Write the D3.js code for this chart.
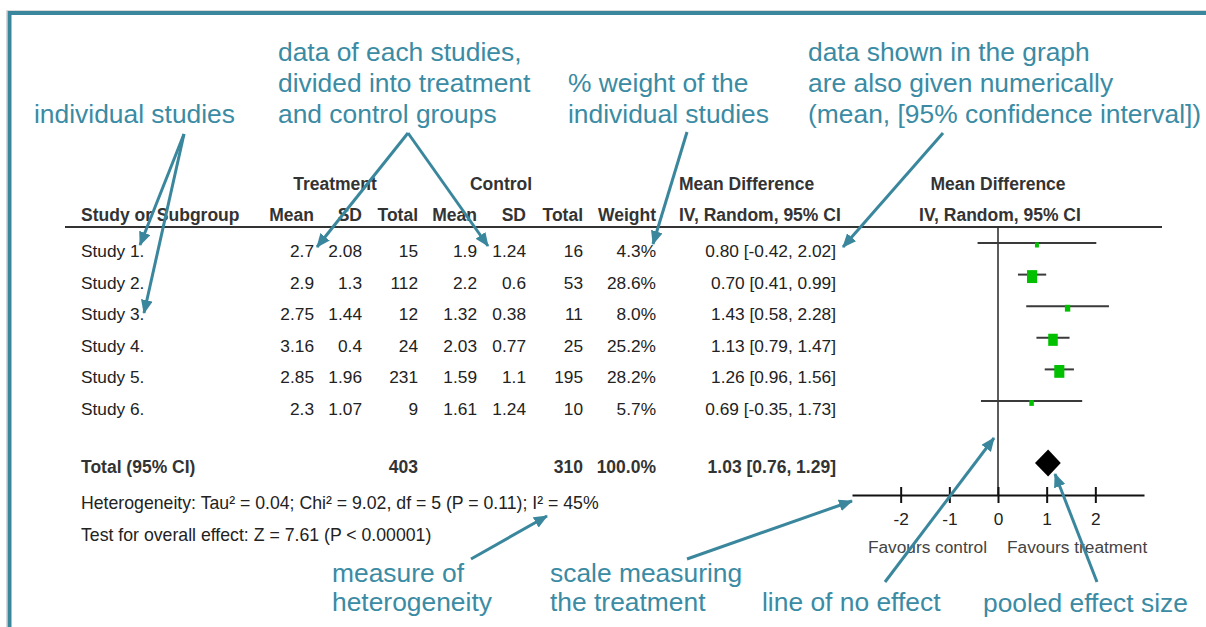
<!DOCTYPE html>
<html>
<head>
<meta charset="utf-8">
<script src="https://cdn.jsdelivr.net/npm/d3@7"></script>
<style>
  html, body { margin: 0; padding: 0; background: #fff; }
  svg { display: block; font-family: "Liberation Sans", Arial, sans-serif; }
</style>
</head>
<body>
<svg id="chart" width="1206" height="627"></svg>
<script>
// ---------------- data ----------------
const studies = ["Study 1.", "Study 2.", "Study 3.", "Study 4.", "Study 5.", "Study 6."];
const tMean  = [2.7, 2.9, 2.75, 3.16, 2.85, 2.3];
const tSD    = [2.08, 1.3, 1.44, 0.4, 1.96, 1.07];
const tTotal = [15, 112, 12, 24, 231, 9];
const cMean  = [1.9, 2.2, 1.32, 2.03, 1.59, 1.61];
const cSD    = [1.24, 0.6, 0.38, 0.77, 1.1, 1.24];
const cTotal = [16, 53, 11, 25, 195, 10];
const weight = [4.3, 28.6, 8.0, 25.2, 28.2, 5.7];
const md     = [0.80, 0.70, 1.43, 1.13, 1.26, 0.69];
const ciLow  = [-0.42, 0.41, 0.58, 0.79, 0.96, -0.35];
const ciHigh = [2.02, 0.99, 2.28, 1.47, 1.56, 1.73];
const pooled = [1.03, 0.76, 1.29];            // estimate, low, high
const totals = [403, 310, 100.0];             // treatment total, control total, weight
const axisTicks = [-2, -1, 0, 1, 2];
const heterogeneityText = "Heterogeneity: Tau\u00B2 = 0.04; Chi\u00B2 = 9.02, df = 5 (P = 0.11); I\u00B2 = 45%";
const overallText = "Test for overall effect: Z = 7.61 (P < 0.00001)";

// ---------------- setup ----------------
const svg = d3.select("#chart");
const TEAL = "#3a879d";
const TEAL_TXT = "#3a8ba3";
const INK = "#222";
const fs = 17.3;
const loc = d3.formatLocale({ decimal: ".", thousands: ",", grouping: [3], currency: ["", ""], minus: "-" });

svg.append("rect").attr("width", 1206).attr("height", 627).attr("fill", "#fff");
// frame
svg.append("path").attr("d", "M6.5,627 V10.5 H1206").attr("fill", "none").attr("stroke", "#d8d8d8").attr("stroke-width", 1);
svg.append("path").attr("d", "M9.5,627 V13 H1206").attr("fill", "none").attr("stroke", TEAL).attr("stroke-width", 4);

const x = d3.scaleLinear().domain([-3, 3]).range([852, 1144]);
const rowY = d3.scaleLinear().domain([0, 1]).range([257, 288.6]); // baseline of each row
const sqSize = d3.scaleSqrt().domain([0, 100]).range([0, 19]);

// column right edges
const cols = { tMean: 314, tSD: 362, tTotal: 418, cMean: 477, cSD: 526, cTotal: 583, weight: 656, ci: 836 };

const g = svg.append("g").attr("font-size", fs).attr("fill", INK);

// headers
const hdr = svg.append("g").attr("font-size", 17.5).attr("font-weight", "bold").attr("fill", "#333");
hdr.append("text").attr("x", 335).attr("y", 190).attr("text-anchor", "middle").text("Treatment");
hdr.append("text").attr("x", 501).attr("y", 190).attr("text-anchor", "middle").text("Control");
hdr.append("text").attr("x", 679).attr("y", 190).text("Mean Difference");
hdr.append("text").attr("x", x(0)).attr("y", 190).attr("text-anchor", "middle").text("Mean Difference");
hdr.append("text").attr("x", 81).attr("y", 221).text("Study or Subgroup");
[["Mean", cols.tMean], ["SD", cols.tSD], ["Total", cols.tTotal], ["Mean", cols.cMean], ["SD", cols.cSD], ["Total", cols.cTotal], ["Weight", cols.weight]]
  .forEach(([t, xr]) => hdr.append("text").attr("x", xr).attr("y", 221).attr("text-anchor", "end").text(t));
hdr.append("text").attr("x", 679).attr("y", 221).text("IV, Random, 95% CI");
hdr.append("text").attr("x", x(0) + 2).attr("y", 221).attr("text-anchor", "middle").text("IV, Random, 95% CI");

svg.append("line").attr("x1", 65).attr("x2", 1162).attr("y1", 227).attr("y2", 227).attr("stroke", "#333").attr("stroke-width", 2);

// rows
const f2 = loc.format(".2f"), f1 = loc.format(".1f");
studies.forEach((s, i) => {
  const y = rowY(i);
  g.append("text").attr("x", 81).attr("y", y).text(s);
  const vals = [[tMean[i], cols.tMean], [tSD[i], cols.tSD], [tTotal[i], cols.tTotal], [cMean[i], cols.cMean], [cSD[i], cols.cSD], [cTotal[i], cols.cTotal]];
  vals.forEach(([v, xr]) => g.append("text").attr("x", xr).attr("y", y).attr("text-anchor", "end").text(String(v)));
  g.append("text").attr("x", cols.weight).attr("y", y).attr("text-anchor", "end").text(f1(weight[i]) + "%");
  g.append("text").attr("x", cols.ci).attr("y", y).attr("text-anchor", "end")
    .text(`${f2(md[i])} [${f2(ciLow[i])}, ${f2(ciHigh[i])}]`);
});

// total row
const tot = svg.append("g").attr("font-size", 17.5).attr("font-weight", "bold").attr("fill", "#333");
tot.append("text").attr("x", 81).attr("y", 473).text("Total (95% CI)");
tot.append("text").attr("x", cols.tTotal).attr("y", 473).attr("text-anchor", "end").text(totals[0]);
tot.append("text").attr("x", cols.cTotal).attr("y", 473).attr("text-anchor", "end").text(totals[1]);
tot.append("text").attr("x", cols.weight).attr("y", 473).attr("text-anchor", "end").text(f1(totals[2]) + "%");
tot.append("text").attr("x", cols.ci).attr("y", 473).attr("text-anchor", "end")
  .text(`${f2(pooled[0])} [${f2(pooled[1])}, ${f2(pooled[2])}]`);

g.append("text").attr("x", 81).attr("y", 509).attr("font-size", 17.7).text(heterogeneityText);
g.append("text").attr("x", 81).attr("y", 541).attr("font-size", 17.7).text(overallText);

// forest plot
svg.append("line").attr("x1", x(0)).attr("x2", x(0)).attr("y1", 227).attr("y2", 495).attr("stroke", "#333").attr("stroke-width", 1.6);

const plot = svg.append("g");
studies.forEach((s, i) => {
  const yc = rowY(i) - 14;
  plot.append("line").attr("x1", x(ciLow[i])).attr("x2", x(ciHigh[i])).attr("y1", yc).attr("y2", yc)
    .attr("stroke", "#3a3a3a").attr("stroke-width", 2);
  const w = sqSize(weight[i]), h = w * 1.27;
  plot.append("rect").attr("x", x(md[i]) - w / 2).attr("y", yc + 2 - h / 2).attr("width", w).attr("height", h).attr("fill", "#00c000");
});

const dy = 463;
plot.append("path")
  .attr("d", `M${x(pooled[1])},${dy} L${x(pooled[0])},${dy - 13.5} L${x(pooled[2])},${dy} L${x(pooled[0])},${dy + 13.5} Z`)
  .attr("fill", "#000");

// axis
const axisG = svg.append("g").attr("transform", "translate(0,495)")
  .call(d3.axisBottom(x).tickValues(axisTicks).tickSize(8).tickSizeOuter(0).tickFormat(loc.format("d")));
axisG.select(".domain").attr("stroke", "#111").attr("stroke-width", 2);
axisG.selectAll(".tick line").attr("y1", -8).attr("y2", 8).attr("stroke", "#111").attr("stroke-width", 2);
axisG.selectAll(".tick text").attr("y", 30).attr("dy", null).attr("font-size", fs)
  .attr("font-family", "Liberation Sans, Arial, sans-serif").attr("fill", INK);

svg.append("text").attr("x", x(0) - 11).attr("y", 553).attr("text-anchor", "end").attr("font-size", fs).attr("fill", "#444").text("Favours control");
svg.append("text").attr("x", x(0) + 9).attr("y", 553).attr("font-size", fs).attr("fill", "#444").text("Favours treatment");

// annotations
const defs = svg.append("defs");
defs.append("marker").attr("id", "ah").attr("markerUnits", "userSpaceOnUse")
  .attr("viewBox", "0 0 14 12").attr("refX", 13).attr("refY", 6)
  .attr("markerWidth", 14).attr("markerHeight", 12).attr("orient", "auto")
  .append("path").attr("d", "M0,0 L14,6 L0,12 Z").attr("fill", TEAL);

const annGroups = [
  { x: 34, y: [123], lines: ["individual studies"] },
  { x: 278, y: [61, 92, 123], lines: ["data of each studies,", "divided into treatment", "and control groups"] },
  { x: 568, y: [92, 123], lines: ["% weight of the", "individual studies"] },
  { x: 808, y: [61, 92, 123], lines: ["data shown in the graph", "are also given numerically", "(mean, [95% confidence interval])"] },
  { x: 332, y: [582, 611], lines: ["measure of", "heterogeneity"] },
  { x: 550, y: [582, 611], lines: ["scale measuring", "the treatment"] },
  { x: 762, y: [611], lines: ["line of no effect"] },
  { x: 983, y: [612], lines: ["pooled effect size"] }
];
const ann = svg.append("g").attr("font-size", 26.4).attr("fill", TEAL_TXT);
annGroups.forEach(a => a.lines.forEach((t, k) => ann.append("text").attr("x", a.x).attr("y", a.y[k]).text(t)));

const arrows = [
  [184, 134, 140, 245], [184, 134, 144, 313],
  [408, 133, 317, 247], [408, 133, 488, 246],
  [687, 132, 653, 244],
  [943, 133, 843, 247],
  [471, 559, 547, 516],
  [687, 559, 852, 501],
  [885, 582, 994, 438],
  [1097, 582, 1055, 474]
];
svg.append("g").selectAll("line").data(arrows).join("line")
  .attr("x1", d => d[0]).attr("y1", d => d[1]).attr("x2", d => d[2]).attr("y2", d => d[3])
  .attr("stroke", TEAL).attr("stroke-width", 3).attr("marker-end", "url(#ah)");
</script>
</body>
</html>
